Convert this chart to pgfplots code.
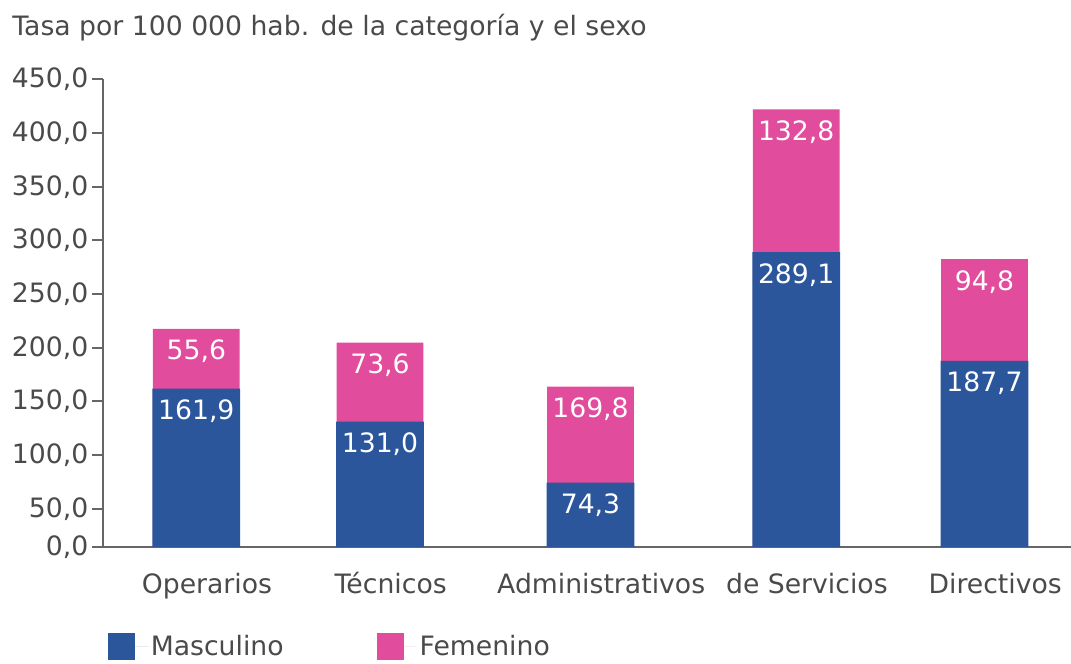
\documentclass[border=0pt]{standalone}
\usepackage{pgfplots}
\pgfplotsset{compat=1.18}
\usepackage{pgfplotstable}
\usepackage{fontspec}
\setmainfont{DejaVu Sans}
\definecolor{masc}{HTML}{2B569C}
\definecolor{fem}{HTML}{E14C9C}
\definecolor{axgray}{HTML}{666666}
\definecolor{txtgray}{HTML}{4A4A4A}
% m = Masculino, t = top of the stacked bar (Masculino + Femenino, as drawn)
\pgfplotstableread{
x      m      t      ml     fl
196.3  161.9  217.5  161,9  55,6
380.0  131.0  204.6  131,0  73,6
590.5  74.3   163.7  74,3   169,8
796.2  289.1  421.9  289,1  132,8
984.5  187.7  282.5  187,7  94,8
}\datatable
\begin{document}
\begin{tikzpicture}[font=\fontsize{20}{24}\selectfont]
\path[use as bounding box] (-77.25pt,-87.5pt) rectangle (726pt,410.5pt);
\begin{axis}[
  scale only axis,
  width=726pt, height=351pt,
  xmin=103, xmax=1071, ymin=14, ymax=450,
  ybar, bar shift=0pt,
  bar width=87.6,
  axis lines*=left,
  axis line style={axgray, line width=1.4pt},
  tick align=outside,
  major tick length=8pt,
  ytick={14,50,100,150,200,250,300,350,400,450},
  yticklabels={{0,0},{50,0},{100,0},{150,0},{200,0},{250,0},{300,0},{350,0},{400,0},{450,0}},
  ytick style={axgray, line width=1.4pt},
  yticklabel style={text=txtgray, xshift=0.5pt},
  xtick={196.3,380,590.5,796.2,984.5},
  xticklabels={Operarios,Técnicos,Administrativos,de Servicios,Directivos},
  xticklabel style={text=txtgray, xshift=8pt, yshift=-8pt, text height=15pt, text depth=4pt},
  xtick style={draw=none},
  point meta=explicit symbolic,
  nodes near coords,
  nodes near coords style={text=white, anchor=center, yshift=-17pt},
  legend columns=2,
  legend style={draw=none, fill=none, inner sep=0pt, at={(0.005,-0.212)}, anchor=west,
    /tikz/every even column/.append style={column sep=68pt},
    text=txtgray, font=\fontsize{20}{24}\selectfont},
  legend image code/.code={\fill[#1] (0pt,-10pt) rectangle (20pt,10pt); \path (0pt,0pt) -- (30pt,0pt);},
  clip=true,
]
\addplot[fill=fem, draw=none, forget plot, bar width=86.6] table[x=x, y=t, meta=fl] {\datatable};
\addplot[fill=masc, draw=none, forget plot] table[x=x, y=m, meta=ml] {\datatable};
\addlegendimage{fill=masc, draw=none}
\addlegendentry{Masculino}
\addlegendimage{fill=fem, draw=none}
\addlegendentry{Femenino}
\end{axis}
\node[anchor=west, inner sep=0pt, text=txtgray] at (-68.25pt,389.5pt) {Tasa por 100 000 hab. de la categoría y el sexo};
\end{tikzpicture}
\end{document}
